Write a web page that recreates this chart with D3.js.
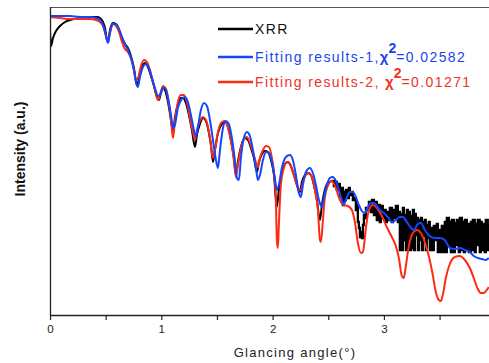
<!DOCTYPE html>
<html><head><meta charset="utf-8">
<script src="https://cdn.jsdelivr.net/npm/d3@7"></script>
<style>
html,body{margin:0;padding:0;background:#fff;}
svg{display:block;font-family:Arial,"Liberation Sans",sans-serif;}
</style></head>
<body><svg id="c" width="489" height="363"></svg>
<script>
// [glancing angle (deg), log intensity (a.u.)]
const xrr = [
[0,2.85],[0.009,2.69],[0.027,2.77],[0.054,2.84],[0.090,2.89],[0.135,2.93],[0.180,2.95],[0.269,2.97],[0.359,2.98],[0.422,2.98],
[0.449,2.97],[0.476,2.93],[0.494,2.87],[0.512,2.75],[0.521,2.73],[0.539,2.85],[0.566,2.92],[0.593,2.91],[0.620,2.85],[0.647,2.77],
[0.673,2.71],[0.700,2.67],[0.727,2.59],[0.754,2.47],[0.781,2.30],[0.808,2.40],[0.835,2.50],[0.853,2.52],[0.880,2.48],[0.907,2.39],
[0.934,2.29],[0.961,2.18],[0.979,2.15],[0.997,2.22],[1.015,2.27],[1.033,2.25],[1.060,2.13],[1.087,1.95],[1.105,1.83],[1.122,1.97],
[1.149,2.11],[1.176,2.17],[1.194,2.17],[1.221,2.12],[1.248,2.00],[1.275,1.85],[1.302,1.68],[1.320,1.80],[1.347,1.91],[1.374,1.97],
[1.401,1.94],[1.428,1.82],[1.446,1.70],[1.464,1.53],[1.482,1.65],[1.509,1.82],[1.545,1.91],[1.572,1.93],[1.598,1.88],[1.625,1.75],
[1.652,1.57],[1.670,1.40],[1.688,1.53],[1.715,1.68],[1.751,1.77],[1.778,1.75],[1.805,1.67],[1.832,1.57],[1.859,1.43],[1.877,1.53],
[1.904,1.61],[1.931,1.64],[1.958,1.63],[1.985,1.55],[2.012,1.40],[2.038,1.08],[2.056,1.25],[2.083,1.43],[2.110,1.51],[2.137,1.53],
[2.164,1.49],[2.191,1.40],[2.218,1.30],[2.245,1.23],[2.263,1.33],[2.290,1.40],[2.317,1.42],[2.344,1.40],[2.371,1.30],[2.398,1.15],
[2.425,0.95],[2.443,1.10],[2.469,1.25],[2.496,1.32],[2.532,1.34],
[2.550,1.29],[2.559,1.33],[2.577,1.25],[2.586,1.31],[2.604,1.19],[2.613,1.27],[2.631,1.10],[2.640,1.23],[2.649,1.15],[2.658,1.25],
[2.676,1.17],[2.685,1.27],[2.694,1.20],[2.712,1.23],[2.721,1.15],[2.739,1.17],[2.748,1.05],[2.757,1.10],[2.766,0.93],[2.775,0.87],
[2.784,0.78],[2.793,0.83],[2.802,0.77],[2.811,0.90],[2.820,1.00],[2.829,0.97],[2.838,1.07],[2.856,1.05],[2.865,1.13],[2.883,1.03],
[2.892,1.15],[2.910,1.00],[2.918,1.13],[2.936,0.95],[2.945,1.10],[2.963,0.93],[2.972,1.09],[2.990,0.97],[2.999,1.05],[3.017,0.93],
[3.026,1.03],[3.044,0.95],[3.053,1.07],[3.071,0.93],[3.080,1.05],[3.098,0.97],[3.107,1.09],[3.125,0.93],[3.134,1.03],[3.143,0.65],
[3.152,1.01],[3.161,0.65],[3.170,1.07],[3.179,0.75],[3.188,1.00],[3.197,0.65],[3.206,1.05],[3.215,0.70],[3.224,1.03],[3.233,0.65],
[3.242,0.99],[3.251,0.67],[3.260,1.05],[3.269,0.65],[3.278,1.01],[3.287,0.80],[3.296,0.97],[3.305,0.65],[3.314,0.95],[3.323,0.75],
[3.332,0.97],[3.341,0.65],[3.350,0.93],[3.359,0.79],[3.367,0.95],[3.376,0.65],[3.385,0.90],[3.394,0.77],[3.403,0.93],[3.412,0.65],
[3.421,0.87],[3.439,0.65],[3.448,0.89],[3.466,0.75],[3.475,0.91],[3.484,0.63],[3.493,0.85],[3.511,0.63],[3.520,0.89],[3.538,0.63],
[3.547,0.93],[3.556,0.63],[3.565,0.97],[3.583,0.70],[3.592,0.93],[3.601,0.63],[3.610,0.95],[3.628,0.63],[3.637,0.92],[3.646,0.70],
[3.655,0.95],[3.673,0.63],[3.682,0.97],[3.700,0.65],[3.709,0.93],[3.718,0.63],[3.727,0.95],[3.745,0.65],[3.754,0.91],[3.763,0.63],
[3.781,0.93],[3.790,0.65],[3.799,0.95],[3.816,0.63],[3.825,0.91],[3.834,0.70],[3.843,0.95],[3.861,0.63],[3.870,0.93],[3.879,0.65],
[3.897,0.91],[3.906,0.63],[3.915,0.95],[3.933,0.65],[3.942,0.91]
];
const fit1 = [
[0,2.99],[0.090,2.99],[0.180,2.99],[0.269,2.98],[0.359,2.98],[0.413,2.97],[0.449,2.95],[0.476,2.90],[0.494,2.83],[0.512,2.75],
[0.521,2.72],[0.539,2.82],[0.566,2.91],[0.593,2.91],[0.620,2.86],[0.647,2.78],[0.673,2.71],[0.700,2.65],[0.727,2.57],[0.754,2.45],
[0.772,2.33],[0.790,2.28],[0.808,2.38],[0.835,2.48],[0.862,2.51],[0.889,2.47],[0.916,2.37],[0.943,2.27],[0.970,2.19],[0.988,2.20],
[1.015,2.27],[1.033,2.27],[1.060,2.17],[1.087,2.00],[1.105,1.87],[1.122,1.90],[1.149,2.07],[1.185,2.16],[1.212,2.18],[1.239,2.13],
[1.266,2.00],[1.293,1.85],[1.311,1.78],[1.329,1.88],[1.356,2.05],[1.383,2.12],[1.410,2.09],[1.437,1.95],[1.464,1.75],[1.491,1.55],
[1.509,1.47],[1.527,1.65],[1.554,1.87],[1.580,1.94],[1.607,1.91],[1.634,1.77],[1.661,1.55],[1.679,1.37],[1.697,1.35],[1.715,1.57],
[1.742,1.77],[1.769,1.83],[1.796,1.79],[1.823,1.65],[1.850,1.47],[1.868,1.35],[1.886,1.40],[1.913,1.55],[1.940,1.63],[1.967,1.62],
[1.994,1.53],[2.020,1.37],[2.038,1.25],[2.056,1.30],[2.083,1.47],[2.119,1.58],[2.155,1.60],[2.182,1.55],[2.209,1.40],[2.236,1.22],
[2.254,1.18],[2.272,1.30],[2.299,1.43],[2.335,1.47],[2.362,1.42],[2.389,1.30],[2.416,1.15],[2.443,1.08],[2.461,1.17],[2.487,1.30],
[2.514,1.37],[2.541,1.38],[2.568,1.34],[2.595,1.25],[2.622,1.15],[2.640,1.11],[2.667,1.18],[2.694,1.23],[2.721,1.23],[2.748,1.18],
[2.775,1.10],[2.802,1.04],[2.829,1.02],[2.856,1.08],[2.883,1.12],[2.910,1.12],[2.936,1.09],[2.963,1.05],[2.999,1.02],[3.035,0.98],
[3.071,0.93],[3.107,0.95],[3.143,0.98],[3.170,0.98],[3.206,0.93],[3.242,0.87],[3.269,0.85],[3.305,0.91],[3.332,0.92],[3.367,0.85],
[3.412,0.79],[3.456,0.77],[3.502,0.77],[3.547,0.75],[3.592,0.67],[3.637,0.66],[3.682,0.67],[3.727,0.65],[3.772,0.63],[3.807,0.59],
[3.843,0.57],[3.879,0.56],[3.915,0.55],[3.942,0.57]
];
const fit2 = [
[0,2.98],[0.090,2.97],[0.180,2.96],[0.269,2.96],[0.359,2.96],[0.413,2.95],[0.449,2.93],[0.476,2.89],[0.494,2.83],[0.512,2.75],
[0.521,2.73],[0.539,2.83],[0.566,2.91],[0.593,2.89],[0.620,2.83],[0.647,2.73],[0.673,2.66],[0.700,2.63],[0.727,2.57],[0.754,2.45],
[0.772,2.35],[0.790,2.37],[0.817,2.49],[0.844,2.55],[0.871,2.53],[0.898,2.45],[0.925,2.33],[0.952,2.21],[0.970,2.15],[0.988,2.20],
[1.015,2.29],[1.042,2.26],[1.069,2.11],[1.087,1.95],[1.105,1.77],[1.122,1.93],[1.149,2.13],[1.176,2.20],[1.203,2.20],[1.230,2.13],
[1.257,1.97],[1.284,1.83],[1.302,1.75],[1.320,1.85],[1.347,1.94],[1.374,1.98],[1.401,1.95],[1.428,1.83],[1.446,1.70],[1.464,1.57],
[1.482,1.65],[1.509,1.83],[1.545,1.93],[1.572,1.94],[1.598,1.88],[1.625,1.75],[1.652,1.55],[1.670,1.38],[1.688,1.50],[1.715,1.67],
[1.742,1.76],[1.769,1.78],[1.796,1.72],[1.823,1.63],[1.850,1.53],[1.868,1.48],[1.886,1.57],[1.913,1.65],[1.940,1.69],[1.967,1.68],
[1.994,1.57],[2.012,1.43],[2.029,1.15],[2.038,0.75],[2.047,0.67],[2.056,0.90],[2.074,1.30],[2.101,1.47],[2.128,1.53],[2.155,1.51],
[2.182,1.43],[2.209,1.33],[2.236,1.26],[2.254,1.25],[2.272,1.33],[2.299,1.40],[2.326,1.42],[2.353,1.38],[2.380,1.25],[2.407,1.05],
[2.425,0.75],[2.434,0.73],[2.452,0.95],[2.469,1.17],[2.496,1.29],[2.532,1.34],[2.568,1.27],[2.604,1.15],[2.640,1.10],[2.676,1.09],
[2.712,1.05],[2.739,0.93],[2.766,0.72],[2.793,0.62],[2.811,0.63],[2.838,0.87],[2.865,1.05],[2.901,1.10],[2.936,1.07],[2.981,0.99],
[3.026,0.88],[3.071,0.78],[3.107,0.69],[3.134,0.57],[3.161,0.39],[3.179,0.37],[3.197,0.49],[3.224,0.69],[3.260,0.82],[3.296,0.85],
[3.332,0.82],[3.367,0.73],[3.403,0.59],[3.439,0.40],[3.466,0.23],[3.493,0.15],[3.511,0.14],[3.529,0.20],[3.556,0.37],[3.592,0.51],
[3.637,0.58],[3.682,0.59],[3.727,0.55],[3.772,0.47],[3.807,0.37],[3.843,0.26],[3.870,0.22],[3.897,0.22],[3.924,0.25],[3.942,0.28]
];
const majorTicks = [0, 1, 2, 3];
const minorTicks = [0.5, 1.5, 2.5, 3.5];
const seriesNames = ["XRR", "Fitting results-1,", "Fitting results-2, "];
const chiValues = ["=0.02582", "=0.01271"];
const xTitle = "Glancing angle(°)";
const yTitle = "Intensity (a.u.)";
const noiseStart = 2.532; // XRR becomes noise-dominated beyond this angle

const svg = d3.select("#c");
const L = 50, R = 489, T = 7, B = 315;
const x = d3.scaleLinear().domain([0, 3.944]).range([L, R]);
const y = d3.scaleLinear().domain([0, 3.08]).range([B, T]);

svg.append("defs").append("clipPath").attr("id","clip")
  .append("rect").attr("x",L).attr("y",T).attr("width",R-L).attr("height",B-T);

const colors = ["#000000", "#1446ff", "#ff2a12"];
const line = d3.line().x(d=>x(d[0])).y(d=>y(d[1])).curve(d3.curveMonotoneX);
const stepLine = d3.line().x(d=>x(d[0])).y(d=>y(d[1])).curve(d3.curveStepAfter);
const g = svg.append("g").attr("clip-path","url(#clip)");
g.append("path").datum(xrr.filter(d=>d[0]<=noiseStart)).attr("d",line).attr("fill","none").attr("stroke",colors[0]).attr("stroke-width",2).attr("stroke-linejoin","round");
g.append("path").datum(xrr.filter(d=>d[0]>=noiseStart)).attr("d",stepLine).attr("fill","none").attr("stroke",colors[0]).attr("stroke-width",2.3);
g.append("path").datum(fit2).attr("d",line).attr("fill","none").attr("stroke",colors[2]).attr("stroke-width",2).attr("stroke-linejoin","round");
g.append("path").datum(fit1).attr("d",line).attr("fill","none").attr("stroke",colors[1]).attr("stroke-width",2).attr("stroke-linejoin","round");

// frame
svg.append("line").attr("x1",L).attr("x2",R).attr("y1",T+0.5).attr("y2",T+0.5).attr("stroke","#555").attr("stroke-width",1.2);
svg.append("line").attr("x1",L+0.5).attr("x2",L+0.5).attr("y1",T).attr("y2",B).attr("stroke","#222").attr("stroke-width",1.3);

// x axis
const ax = svg.append("g").attr("transform",`translate(0,${B})`)
  .call(d3.axisBottom(x).tickValues(majorTicks).tickSize(5).tickSizeOuter(0).tickFormat(d3.format("d")));
ax.select(".domain").attr("stroke","#222").attr("stroke-width",1.3);
ax.selectAll(".tick line").attr("stroke","#222").attr("stroke-width",1.2);
ax.selectAll(".tick text").attr("font-size",11.5).attr("fill","#222").attr("font-family","Arial, 'Liberation Sans', sans-serif").attr("dy","0.9em");
const mx = svg.append("g").attr("transform",`translate(0,${B})`)
  .call(d3.axisBottom(x).tickValues(minorTicks).tickSize(5).tickSizeOuter(0).tickFormat(""));
mx.select(".domain").remove();
mx.selectAll(".tick line").attr("stroke","#222").attr("stroke-width",1.2);

svg.append("text").attr("x",295).attr("y",357).attr("text-anchor","middle")
  .attr("font-size",13).attr("letter-spacing",1.3).attr("fill","#222").text(xTitle);
svg.append("text").attr("transform","translate(25,149) rotate(-90)").attr("text-anchor","middle")
  .attr("font-size",14).attr("font-weight","bold").attr("fill","#111").text(yTitle);

// legend
const legY = [29, 57, 82];
const baseY = [34, 62, 87];
const textCol = ["#111", "#1a44ee", "#ee3322"];
legY.forEach((ly,i)=>{
  svg.append("line").attr("x1",218).attr("x2",253).attr("y1",ly).attr("y2",ly)
    .attr("stroke",colors[i]).attr("stroke-width",2.5);
  const t = svg.append("text").attr("x",255).attr("y",baseY[i]).attr("font-size",14)
    .attr("letter-spacing",1.4).attr("fill",textCol[i]);
  t.append("tspan").text(seriesNames[i]);
  if(i>0){
    t.append("tspan").attr("font-size",15).attr("font-weight","bold").attr("dy",0).attr("letter-spacing",0).text("χ");
    t.append("tspan").attr("font-size",14).attr("font-weight","bold").attr("dy",-9).attr("letter-spacing",0).text("2");
    t.append("tspan").attr("dy",9).text(chiValues[i-1]);
  }
});
</script></body></html>
